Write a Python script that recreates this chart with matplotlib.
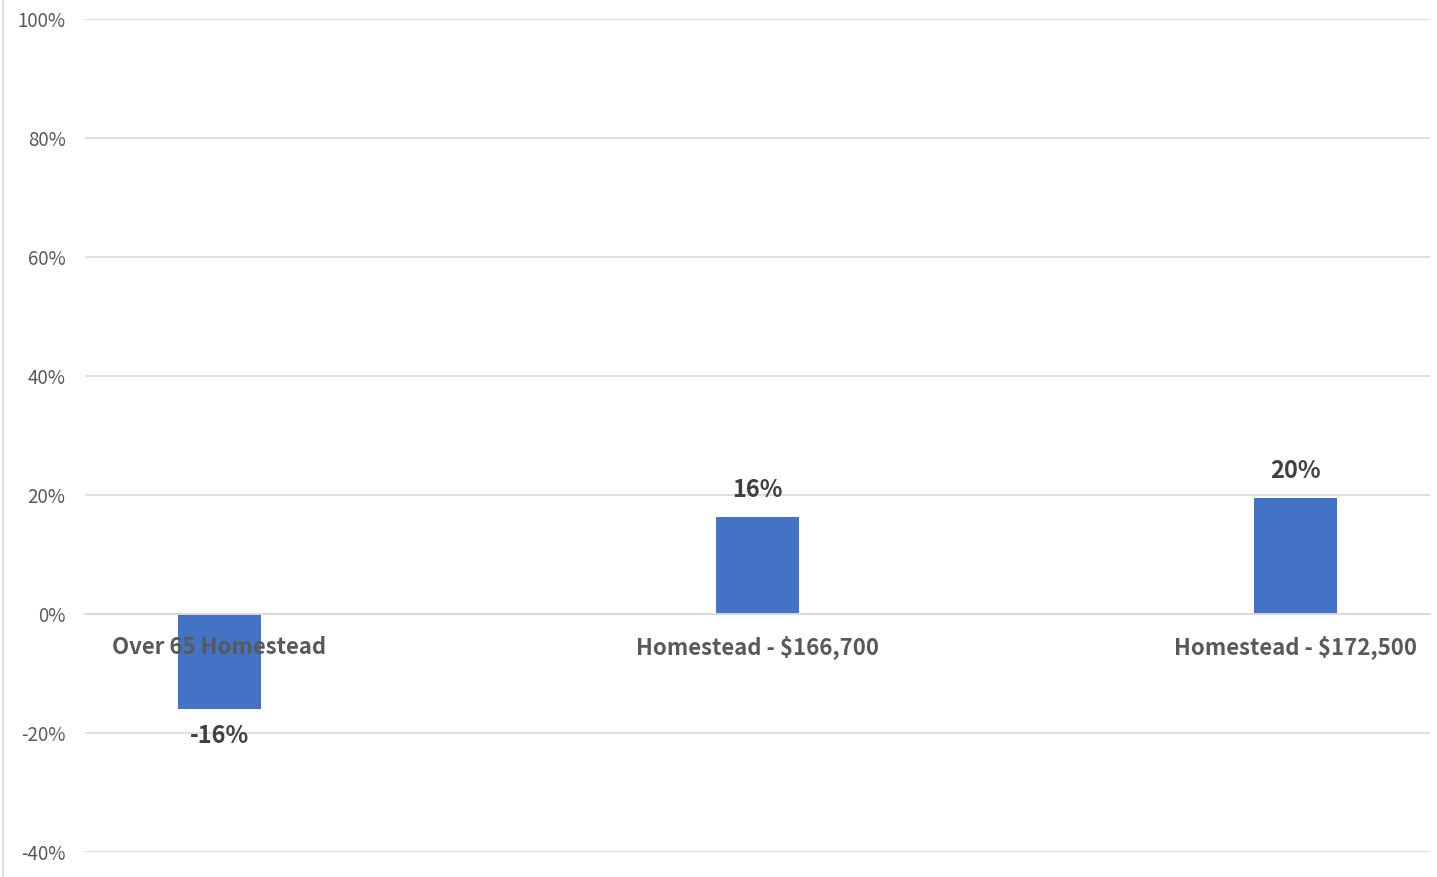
import numpy as np
from matplotlib import pyplot as plt
from matplotlib.ticker import FuncFormatter

#%% DATOS

categorias = ['Over 65 Homestead', 'Homestead - $166,700', 'Homestead - $172,500']
valores = [-0.16, 0.163, 0.195]
etiquetas = ['-16%', '16%', '20%']

#%% FIGURA

plt.rcParams['font.family'] = ['Noto Sans CJK SC', 'DejaVu Sans']

fig = plt.figure(figsize=(14.37, 8.77), dpi=100)
ax = fig.add_axes([85/1437, 1-852/877, (1430-85)/1437, (852-19)/877])

x = np.arange(len(categorias))
barras = ax.bar(x, valores, width=0.156, color='#4472c4', zorder=1)

ax.set_xlim(-0.25, 2.25)
ax.set_ylim(-0.4, 1.0)
ax.set_yticks(np.arange(-0.4, 1.01, 0.2))
ax.yaxis.set_major_formatter(FuncFormatter(lambda v, p: '%d%%' % round(v*100)))
ax.grid(axis='y', color='#d9d9d9', linewidth=1.2)

for s in ['top', 'right', 'left']:
    ax.spines[s].set_visible(False)
ax.spines['bottom'].set_position(('data', 0))
ax.spines['bottom'].set_color('#d9d9d9')
ax.spines['bottom'].set_linewidth(1.2)

ax.set_xticks(x)
ax.set_xticklabels(categorias, fontsize=16, fontweight='bold', color='#595959',
                   va='baseline')
ax.tick_params(axis='x', length=0, pad=29)
ax.tick_params(axis='y', length=0, labelsize=13.5, labelcolor='#595959', pad=14)

ax.bar_label(barras, labels=etiquetas, padding=11, fontsize=17, fontweight='bold',
             color='#404040')

fig.add_artist(plt.Line2D([3/1437, 3/1437], [0, 1], transform=fig.transFigure,
                          color='#d9d9d9', linewidth=1.2))

plt.savefig('out.png', dpi=100)
